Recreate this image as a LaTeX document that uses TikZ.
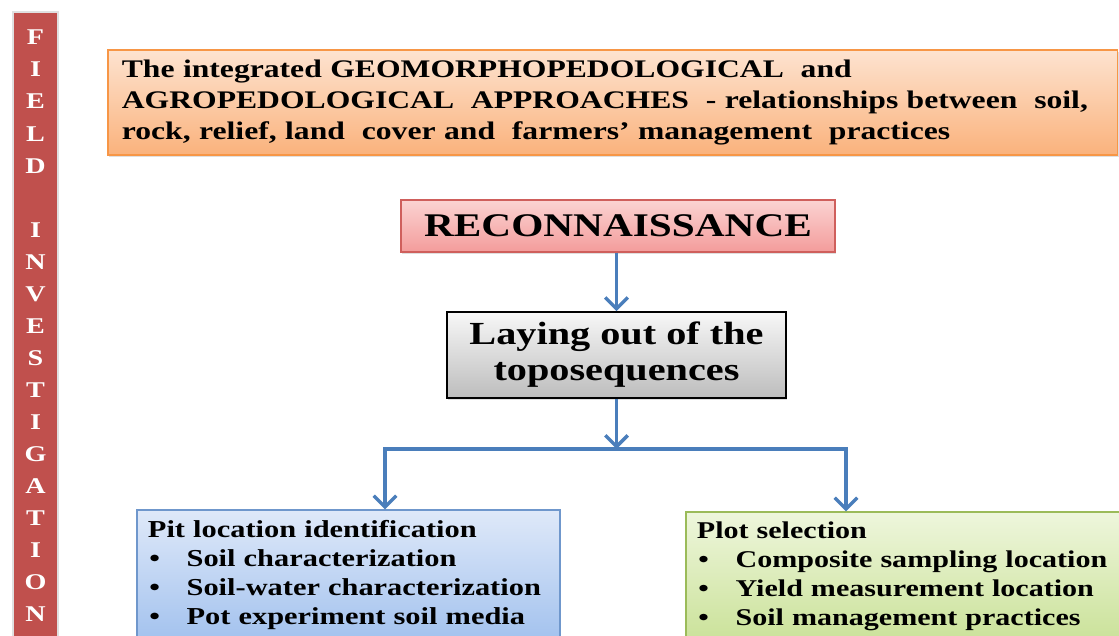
\documentclass[tikz,border=0pt]{standalone}
\usepackage{fontspec}
\setmainfont[FakeStretch=1.25]{Liberation Serif}
\usetikzlibrary{arrows.meta,shadows}

\definecolor{barred}{HTML}{C0504D}
\definecolor{orangeline}{HTML}{F79646}
\definecolor{orangetop}{HTML}{FDE3D0}
\definecolor{orangebot}{HTML}{FAB27C}
\definecolor{pinkline}{HTML}{CF5F5C}
\definecolor{pinktop}{HTML}{FBD3D2}
\definecolor{pinkbot}{HTML}{F39C9B}
\definecolor{greytop}{HTML}{F7F7F7}
\definecolor{greybot}{HTML}{BDBDBD}
\definecolor{bluetop}{HTML}{DFE9F9}
\definecolor{bluebot}{HTML}{A3C2EE}
\definecolor{blueline}{HTML}{6F97CC}
\definecolor{greentop}{HTML}{EEF6DC}
\definecolor{greenbot}{HTML}{CBE29A}
\definecolor{greenline}{HTML}{9BBB59}
\definecolor{arrowblue}{HTML}{4A7EBB}

\newcommand{\bpoint}{\\\hspace*{1pt}\makebox[26.5pt][l]{\textbullet}}

\begin{document}
\begin{tikzpicture}[x=0.025cm, y=-0.025cm,
		box/.style={draw, line width=0.9pt, font=\bfseries, drop shadow={opacity=0.25, shadow xshift=1pt, shadow yshift=-1.5pt}},
		flow/.style={draw=arrowblue, line width=2.4pt, -{Straight Barb[length=8pt, width=16pt]}},
		wire/.style={draw=arrowblue, line width=2.4pt}]
	\useasboundingbox (0,0) rectangle (1119,636);

	% side bar
	\node[draw=black!12, line width=1.2pt, fill=barred, text=white, font=\bfseries\fontsize{16}{22.8}\selectfont,
		align=center, minimum width=1.125cm, minimum height=15.7cm, inner sep=0pt] (field) at (35.5,326)
		{F\\I\\E\\L\\D\\[22.8pt]I\\N\\V\\E\\S\\T\\I\\G\\A\\T\\I\\O\\N};

	% boxes
	\node[box, draw=orangeline, top color=orangetop, bottom color=orangebot, minimum width=25.225cm, minimum height=2.625cm,
		inner xsep=0.35cm, text width=24.525cm, align=left, font=\bfseries\fontsize{18}{22}\selectfont] (approach) at (612.5,102.5)
		{The integrated GEOMORPHOPEDOLOGICAL\ \ and\\
		AGROPEDOLOGICAL\ \ APPROACHES\ \ - relationships between\ \ soil,\\
		rock, relief, land\ \ cover and\ \ farmers’ management\ \ practices};
	\node[box, draw=pinkline, top color=pinktop, bottom color=pinkbot, minimum width=10.85cm, minimum height=1.3cm,
		font=\bfseries\fontsize{23.5}{26}\selectfont] (recon) at (618,226) {RECONNAISSANCE};
	\node[box, draw=black, line width=1.3pt, top color=greytop, bottom color=greybot, minimum width=8.475cm, minimum height=2.15cm,
		align=center, font=\bfseries\fontsize{22.9}{25.6}\selectfont] (toposeq) at (616.5,355) {Laying out of the\\toposequences};
	\node[box, draw=blueline, top color=bluetop, bottom color=bluebot, minimum width=10.575cm, minimum height=3.25cm,
		inner xsep=0.275cm, text width=10.025cm, align=left, font=\bfseries\fontsize{17.3}{20.6}\selectfont] (pit) at (348.5,575)
		{Pit location identification
		\bpoint Soil characterization
		\bpoint Soil-water characterization
		\bpoint Pot experiment soil media};
	\node[box, draw=greenline, top color=greentop, bottom color=greenbot, minimum width=10.975cm, minimum height=3.2cm,
		inner xsep=0.275cm, text width=10.425cm, align=left, font=\bfseries\fontsize{17.1}{20.6}\selectfont] (plot) at (905.5,576)
		{Plot selection
		\bpoint Composite sampling location
		\bpoint Yield measurement location
		\bpoint Soil management practices};

	% connectors
	\coordinate (bl) at (385,449);
	\coordinate (br) at (846,449);
	\draw[flow] (toposeq.north |- recon.south) -- (toposeq.north);
	\draw[flow] (toposeq.south) -- (toposeq.south |- bl);
	\draw[wire] ([xshift=-1.2pt]bl) -- ([xshift=1.2pt]br);
	\draw[flow] (bl) -- (bl |- pit.north);
	\draw[flow] (br) -- (br |- plot.north);
\end{tikzpicture}
\end{document}
